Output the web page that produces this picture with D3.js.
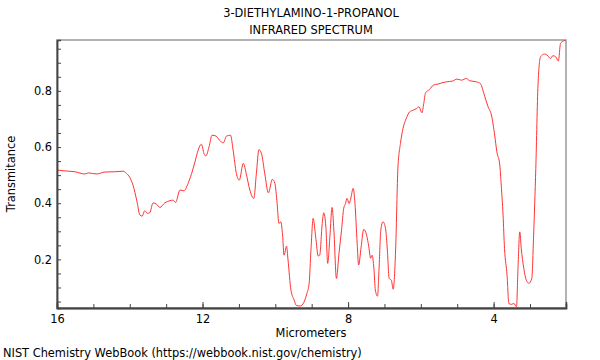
<!DOCTYPE html>
<html><head><meta charset="utf-8">
<script src="https://cdn.jsdelivr.net/npm/d3@7"></script>
<style>body{margin:0;background:#fff}svg{display:block;font-family:"DejaVu Sans",sans-serif}</style>
</head><body><svg id="c" width="600" height="360"></svg>
<script>
const titleLines = ["3-DIETHYLAMINO-1-PROPANOL", "INFRARED SPECTRUM"];
const xLabel = "Micrometers";
const yLabel = "Transmitance";
const footer = "NIST Chemistry WebBook (https://webbook.nist.gov/chemistry)";
const xTicks = [16, 12, 8, 4];
const yTicks = [0.2, 0.4, 0.6, 0.8];
const micrometers = [16.00,15.78,15.51,15.23,15.14,14.91,14.68,14.41,14.18,14.09,14.00,13.91,13.81,13.72,13.66,13.59,13.51,13.45,13.36,13.26,13.17,13.04,12.90,12.81,12.74,12.62,12.51,12.40,12.30,12.21,12.12,12.03,11.96,11.91,11.82,11.74,11.63,11.54,11.43,11.34,11.23,11.16,11.07,10.99,10.88,10.79,10.70,10.59,10.52,10.45,10.38,10.29,10.19,10.08,10.01,9.95,9.90,9.85,9.80,9.76,9.69,9.65,9.57,9.48,9.42,9.31,9.22,9.13,9.07,9.02,8.96,8.89,8.82,8.78,8.71,8.67,8.61,8.56,8.50,8.44,8.39,8.32,8.25,8.18,8.12,8.07,8.03,7.97,7.93,7.86,7.81,7.75,7.71,7.64,7.57,7.49,7.43,7.38,7.34,7.29,7.25,7.19,7.15,7.10,7.04,6.97,6.92,6.87,6.81,6.76,6.69,6.63,6.56,6.49,6.40,6.31,6.21,6.12,6.05,5.97,5.92,5.87,5.76,5.66,5.53,5.43,5.30,5.12,5.01,4.88,4.75,4.66,4.47,4.36,4.31,4.24,4.15,4.06,3.97,3.91,3.83,3.79,3.74,3.70,3.63,3.58,3.51,3.44,3.37,3.33,3.28,3.24,3.17,3.10,3.03,2.95,2.90,2.84,2.78,2.71,2.60,2.51,2.44,2.37,2.29,2.22,2.16,2.09,2.02];
const transmittance = [0.518,0.515,0.512,0.504,0.508,0.504,0.511,0.512,0.514,0.506,0.492,0.464,0.411,0.358,0.354,0.373,0.364,0.366,0.401,0.396,0.385,0.401,0.409,0.411,0.403,0.447,0.444,0.470,0.506,0.546,0.589,0.610,0.577,0.568,0.601,0.642,0.639,0.625,0.615,0.639,0.642,0.589,0.506,0.482,0.542,0.500,0.447,0.417,0.506,0.591,0.577,0.506,0.437,0.485,0.470,0.399,0.328,0.334,0.286,0.215,0.247,0.198,0.091,0.055,0.036,0.034,0.046,0.079,0.115,0.233,0.346,0.280,0.212,0.215,0.328,0.366,0.316,0.186,0.280,0.385,0.304,0.132,0.221,0.304,0.381,0.399,0.417,0.399,0.414,0.453,0.399,0.257,0.180,0.245,0.307,0.286,0.245,0.204,0.215,0.168,0.091,0.069,0.162,0.304,0.334,0.310,0.233,0.132,0.126,0.094,0.245,0.525,0.613,0.666,0.702,0.725,0.731,0.737,0.743,0.722,0.755,0.793,0.805,0.820,0.824,0.828,0.832,0.835,0.842,0.838,0.844,0.836,0.832,0.826,0.809,0.779,0.743,0.714,0.642,0.583,0.536,0.464,0.358,0.239,0.144,0.043,0.040,0.043,0.031,0.168,0.298,0.239,0.168,0.126,0.115,0.132,0.286,0.524,0.820,0.921,0.931,0.925,0.915,0.925,0.921,0.906,0.969,0.977,0.980];

const svg = d3.select("#c");
const L = 57, R = 566, T = 40, B = 308;
const FS = 11.4;
const x = d3.scaleLinear().domain([16, 2.01]).range([L, R]);
const y = d3.scaleLinear().domain([0.027, 0.981]).range([B, T]);

svg.append("rect").attr("x", L).attr("y", T).attr("width", R - L).attr("height", B - T)
  .attr("fill", "none").attr("stroke", "#999").attr("stroke-width", 1.5);

svg.append("clipPath").attr("id", "clip").append("rect")
  .attr("x", L).attr("y", T).attr("width", R - L).attr("height", B - T);

const data = micrometers.map((m, i) => [m, transmittance[i]]);
svg.append("path").datum(data)
  .attr("clip-path", "url(#clip)")
  .attr("fill", "none").attr("stroke", "#ff3333").attr("stroke-width", 1)
  .attr("d", d3.line().x(d => x(d[0])).y(d => y(d[1])).curve(d3.curveMonotoneX));

const yMinor = d3.range(0.05, 0.98, 0.05);
svg.append("g").attr("transform", `translate(${L},0)`)
  .call(d3.axisRight(y).tickValues(yMinor).tickSize(4).tickFormat(""));
svg.append("g").attr("transform", `translate(${L},0)`)
  .call(d3.axisLeft(y).tickValues(yTicks).tickSize(0).tickPadding(5).tickFormat(d3.format(".1f")));
const xMinor = d3.range(3, 16, 1);
svg.append("g").attr("transform", `translate(0,${B})`)
  .call(d3.axisTop(x).tickValues(xMinor).tickSize(4).tickFormat(""));
svg.append("g").attr("transform", `translate(0,${B})`)
  .call(d3.axisBottom(x).tickValues(xTicks).tickSize(0).tickPadding(7).tickFormat(d3.format("d")));
svg.append("g").attr("transform", `translate(0,${B})`)
  .call(d3.axisTop(x).tickValues(xTicks).tickSize(6).tickFormat(""));
svg.selectAll(".domain").attr("stroke", "#444").attr("stroke-width", 1.5);
svg.selectAll(".tick line").attr("stroke", "#444");
svg.selectAll(".tick text").attr("fill", "#000").attr("font-size", FS).attr("font-family", "DejaVu Sans");

svg.append("text").attr("x", 311).attr("y", 17).attr("text-anchor", "middle").attr("font-size", FS).text(titleLines[0]);
svg.append("text").attr("x", 311).attr("y", 34).attr("text-anchor", "middle").attr("font-size", FS).text(titleLines[1]);
svg.append("text").attr("x", 311).attr("y", 337).attr("text-anchor", "middle").attr("font-size", FS).text(xLabel);
svg.append("text").attr("transform", "translate(15,174) rotate(-90)").attr("text-anchor", "middle").attr("font-size", FS).text(yLabel);
svg.append("text").attr("x", 3).attr("y", 357).attr("font-size", FS).text(footer);
</script></body></html>
